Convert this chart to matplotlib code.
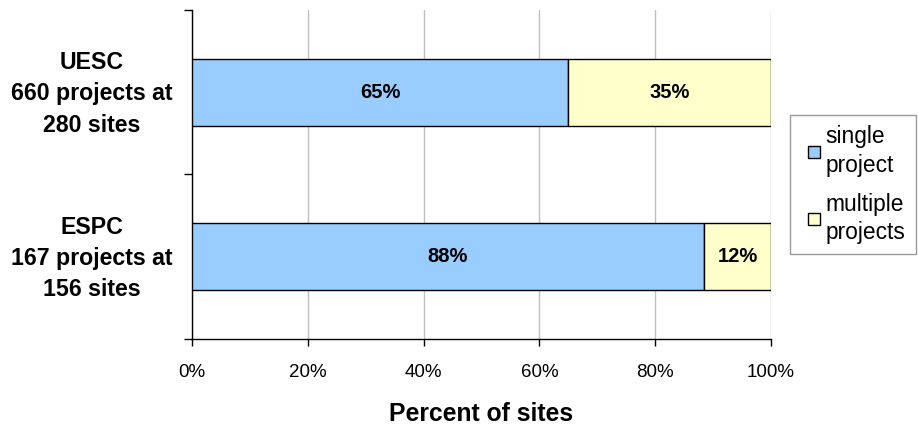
import matplotlib
matplotlib.use("Agg")
import matplotlib.pyplot as plt
from matplotlib.lines import Line2D
from matplotlib.ticker import FixedLocator
import numpy as np

plt.rcParams["font.family"] = ["Liberation Sans", "DejaVu Sans"]

# data (top row first)
groups = ["UESC\n660 projects at\n280 sites", "ESPC\n167 projects at\n156 sites"]
single = [65.0, 88.4]
multiple = [35.0, 11.6]
single_lbl = ["65%", "88%"]
multiple_lbl = ["35%", "12%"]
series_names = ["single\nproject", "multiple\nprojects"]

BLUE = "#99CCFF"
YELLOW = "#FFFFCC"

fig = plt.figure(figsize=(9.18, 4.25), dpi=100)
ax = fig.add_axes([0.209, 0.203, 0.631, 0.773])

y = np.arange(len(groups))[::-1]  # UESC on top
h = 0.41
ax.barh(y, single, height=h, color=BLUE, edgecolor="black", lw=1.0, zorder=3)
ax.barh(y, multiple, left=single, height=h, color=YELLOW, edgecolor="black", lw=1.0, zorder=3)

for yi, s, m, ls, lm in zip(y, single, multiple, single_lbl, multiple_lbl):
    ax.text(s / 2, yi, ls, ha="center", va="center", fontsize=14.5, fontweight="bold", zorder=4)
    ax.text(s + m / 2, yi, lm, ha="center", va="center", fontsize=14.5, fontweight="bold", zorder=4)

ax.set_xlim(0, 100)
ax.set_ylim(-0.5, len(groups) - 0.5)
ax.set_xticks(np.arange(0, 101, 20))
ax.set_xticklabels([f"{v}%" for v in range(0, 101, 20)], fontsize=13.5)
ax.tick_params(axis="x", length=5, width=1, pad=13)

# category boundaries get the ticks, centres get the labels (nudged up a touch)
ax.yaxis.set_major_locator(FixedLocator([-0.5, 0.5, 1.5]))
ax.set_yticklabels([])
ax.yaxis.set_minor_locator(FixedLocator(list(y + 0.03)))
ax.set_yticklabels(groups, minor=True, fontsize=16.7, fontweight="bold", linespacing=1.45, ha="center")
ax.tick_params(axis="y", which="major", length=6, width=1)
ax.tick_params(axis="y", which="minor", length=0, pad=72)

ax.xaxis.grid(True, color="#C0C0C0", lw=1, zorder=0)
ax.spines["top"].set_visible(False)
ax.spines["right"].set_visible(False)
for s in ("left", "bottom"):
    ax.spines[s].set_color("black")
    ax.spines[s].set_linewidth(1)

ax.set_xlabel("Percent of sites", fontsize=17.8, fontweight="bold", labelpad=15)

handles = [Line2D([], [], ls="none", marker="s", markersize=8.5, markerfacecolor=c,
                  markeredgecolor="black", markeredgewidth=1) for c in (BLUE, YELLOW)]
leg = fig.legend(handles, series_names, loc="upper left", bbox_to_anchor=(0.861, 0.729),
                 fontsize=16.4, frameon=True, fancybox=False, edgecolor="#808080",
                 handlelength=1.2, handletextpad=-0.1, labelspacing=0.7,
                 borderpad=0.45, borderaxespad=0)
leg.get_frame().set_linewidth(1)
for t in leg.get_texts():
    t.set_linespacing(1.3)

fig.savefig("out.png", dpi=100)
